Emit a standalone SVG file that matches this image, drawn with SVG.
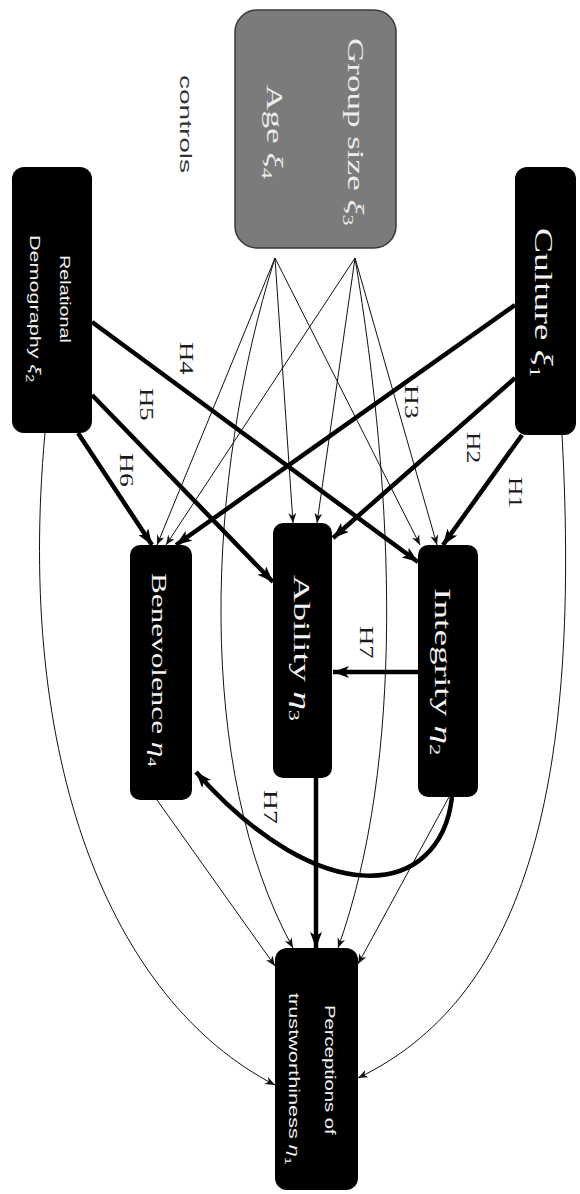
<svg xmlns="http://www.w3.org/2000/svg" width="580" height="1194" viewBox="0 0 580 1194">
  <style>
    .box { fill: #000; }
    .ctrl { fill: #7b7b7b; stroke: #3a3a3a; stroke-width: 1.5; }
    .serif { font-family: "Liberation Serif", "Times New Roman", serif; }
    .sans { font-family: "Liberation Sans", Arial, sans-serif; }
    .w { fill: #f2f2f2; }
    .lg { fill: #ececec; }
    .lbl { fill: #1a1a1a; font-family: "Liberation Serif", "Times New Roman", serif; font-size: 19px; }
    .g { font-style: italic; }
    .thin { fill: none; stroke: #111; stroke-width: 1; marker-end: url(#ah); }
    .thick { fill: none; stroke: #000; stroke-width: 4.5; marker-end: url(#AH); }
  </style>
  <defs>
    <marker id="ah" viewBox="0 0 10 8" refX="10" refY="4" markerWidth="10" markerHeight="8" markerUnits="userSpaceOnUse" orient="auto">
      <path d="M0,0 L10,4 L0,8 L3,4 z" fill="#111"/>
    </marker>
    <marker id="AH" viewBox="0 0 16 12" refX="16" refY="6" markerWidth="16" markerHeight="12" markerUnits="userSpaceOnUse" orient="auto">
      <path d="M0,0 L16,6 L0,12 L4,6 z" fill="#000"/>
    </marker>
  </defs>

  <!-- connectors -->
  <g id="connectors">
    <!-- control variables -->
    <path class="thin" d="M275,258 L157,545"/>
    <path class="thin" d="M275,258 L293,523"/>
    <path class="thin" d="M275,258 L420,545"/>
    <path class="thin" d="M275,258 C205,480 195,770 293,948"/>
    <path class="thin" d="M355,258 L166,545"/>
    <path class="thin" d="M355,258 L317,523"/>
    <path class="thin" d="M355,258 L437,545"/>
    <path class="thin" d="M355,258 C395,500 405,760 338,948"/>
    <!-- direct effects on trustworthiness -->
    <path class="thin" d="M157,800 L275,966"/>
    <path class="thin" d="M449,797 L358,964"/>
    <path class="thin" d="M45,433 C15,760 110,1000 275,1085"/>
    <path class="thin" d="M562,435 C582,800 520,1000 358,1078"/>
    <!-- hypotheses -->
    <path class="thick" d="M522,435 L443,545"/>
    <path class="thick" d="M515,378 L333,538"/>
    <path class="thick" d="M515,305 L176,545"/>
    <path class="thick" d="M92,322 L418,562"/>
    <path class="thick" d="M92,395 L273,582"/>
    <path class="thick" d="M78,433 L152,545"/>
    <path class="thick" d="M418,672 L333,672"/>
    <path class="thick" d="M452,797 C440,900 320,912 196,772"/>
    <path class="thick" d="M316,778 L316,948"/>
    <!-- labels -->
    <text class="lbl" transform="translate(509,477) rotate(90) scale(1.35,1)">H1</text>
    <text class="lbl" transform="translate(467,432) rotate(90) scale(1.35,1)">H2</text>
    <text class="lbl" transform="translate(405,385) rotate(90) scale(1.45,1)">H3</text>
    <text class="lbl" transform="translate(180,342) rotate(90) scale(1.4,1)">H4</text>
    <text class="lbl" transform="translate(140,388) rotate(90) scale(1.4,1)">H5</text>
    <text class="lbl" transform="translate(120,453) rotate(90) scale(1.45,1)">H6</text>
    <text class="lbl" transform="translate(360,626) rotate(90) scale(1.4,1)">H7</text>
    <text class="lbl" transform="translate(264,790) rotate(90) scale(1.45,1)">H7</text>
  </g>

  <!-- controls -->
  <g id="controls">
    <rect class="ctrl" x="235" y="10" width="161" height="238" rx="22"/>
    <text class="serif lg" font-size="24" transform="translate(348,38) rotate(90) scale(1.46,1)">Group size <tspan class="g">ξ</tspan><tspan font-size="15" dy="5">3</tspan></text>
    <text class="serif lg" font-size="24" transform="translate(267,85) rotate(90) scale(1.47,1)">Age <tspan class="g">ξ</tspan><tspan font-size="15" dy="5">4</tspan></text>
    <text class="sans" fill="#333" font-size="16" transform="translate(180,75) rotate(90) scale(1.75,1)">controls</text>
  </g>

  <g id="relational-demography">
    <rect class="box" x="12" y="167" width="80" height="266" rx="12"/>
    <text class="sans w" font-size="15" transform="translate(60,255) rotate(90) scale(1.32,1)">Relational</text>
    <text class="sans w" font-size="15" transform="translate(30,235) rotate(90) scale(1.44,1)">Demography <tspan class="g">ξ</tspan><tspan font-size="10" dy="4">2</tspan></text>
  </g>

  <g id="culture">
    <rect class="box" x="515" y="167" width="61" height="268" rx="12"/>
    <text class="serif w" font-size="25" transform="translate(535,228) rotate(90) scale(1.5,1)">Culture <tspan class="g">ξ</tspan><tspan font-size="15" dy="5">1</tspan></text>
  </g>

  <g id="integrity">
    <rect class="box" x="418" y="545" width="60" height="252" rx="10"/>
    <text class="serif w" font-size="23" transform="translate(435,588) rotate(90) scale(1.62,1)">Integrity <tspan class="g">η</tspan><tspan font-size="14" dy="5">2</tspan></text>
  </g>

  <g id="ability">
    <rect class="box" x="273" y="523" width="59" height="255" rx="10"/>
    <text class="serif w" font-size="24" transform="translate(294,575) rotate(90) scale(1.57,1)">Ability <tspan class="g">η</tspan><tspan font-size="14" dy="5">3</tspan></text>
  </g>

  <g id="benevolence">
    <rect class="box" x="130" y="545" width="62" height="255" rx="10"/>
    <text class="serif w" font-size="20" transform="translate(152,573) rotate(90) scale(1.56,1)">Benevolence <tspan class="g">η</tspan><tspan font-size="12" dy="4">4</tspan></text>
  </g>

  <g id="trustworthiness">
    <rect class="box" x="275" y="948" width="83" height="242" rx="12"/>
    <text class="sans w" font-size="14" transform="translate(325,1005) rotate(90) scale(1.45,1)">Perceptions of</text>
    <text class="sans w" font-size="14" transform="translate(289,993) rotate(90) scale(1.55,1)">trustworthiness <tspan class="g">η</tspan><tspan font-size="9" dy="4">1</tspan></text>
  </g>
</svg>
